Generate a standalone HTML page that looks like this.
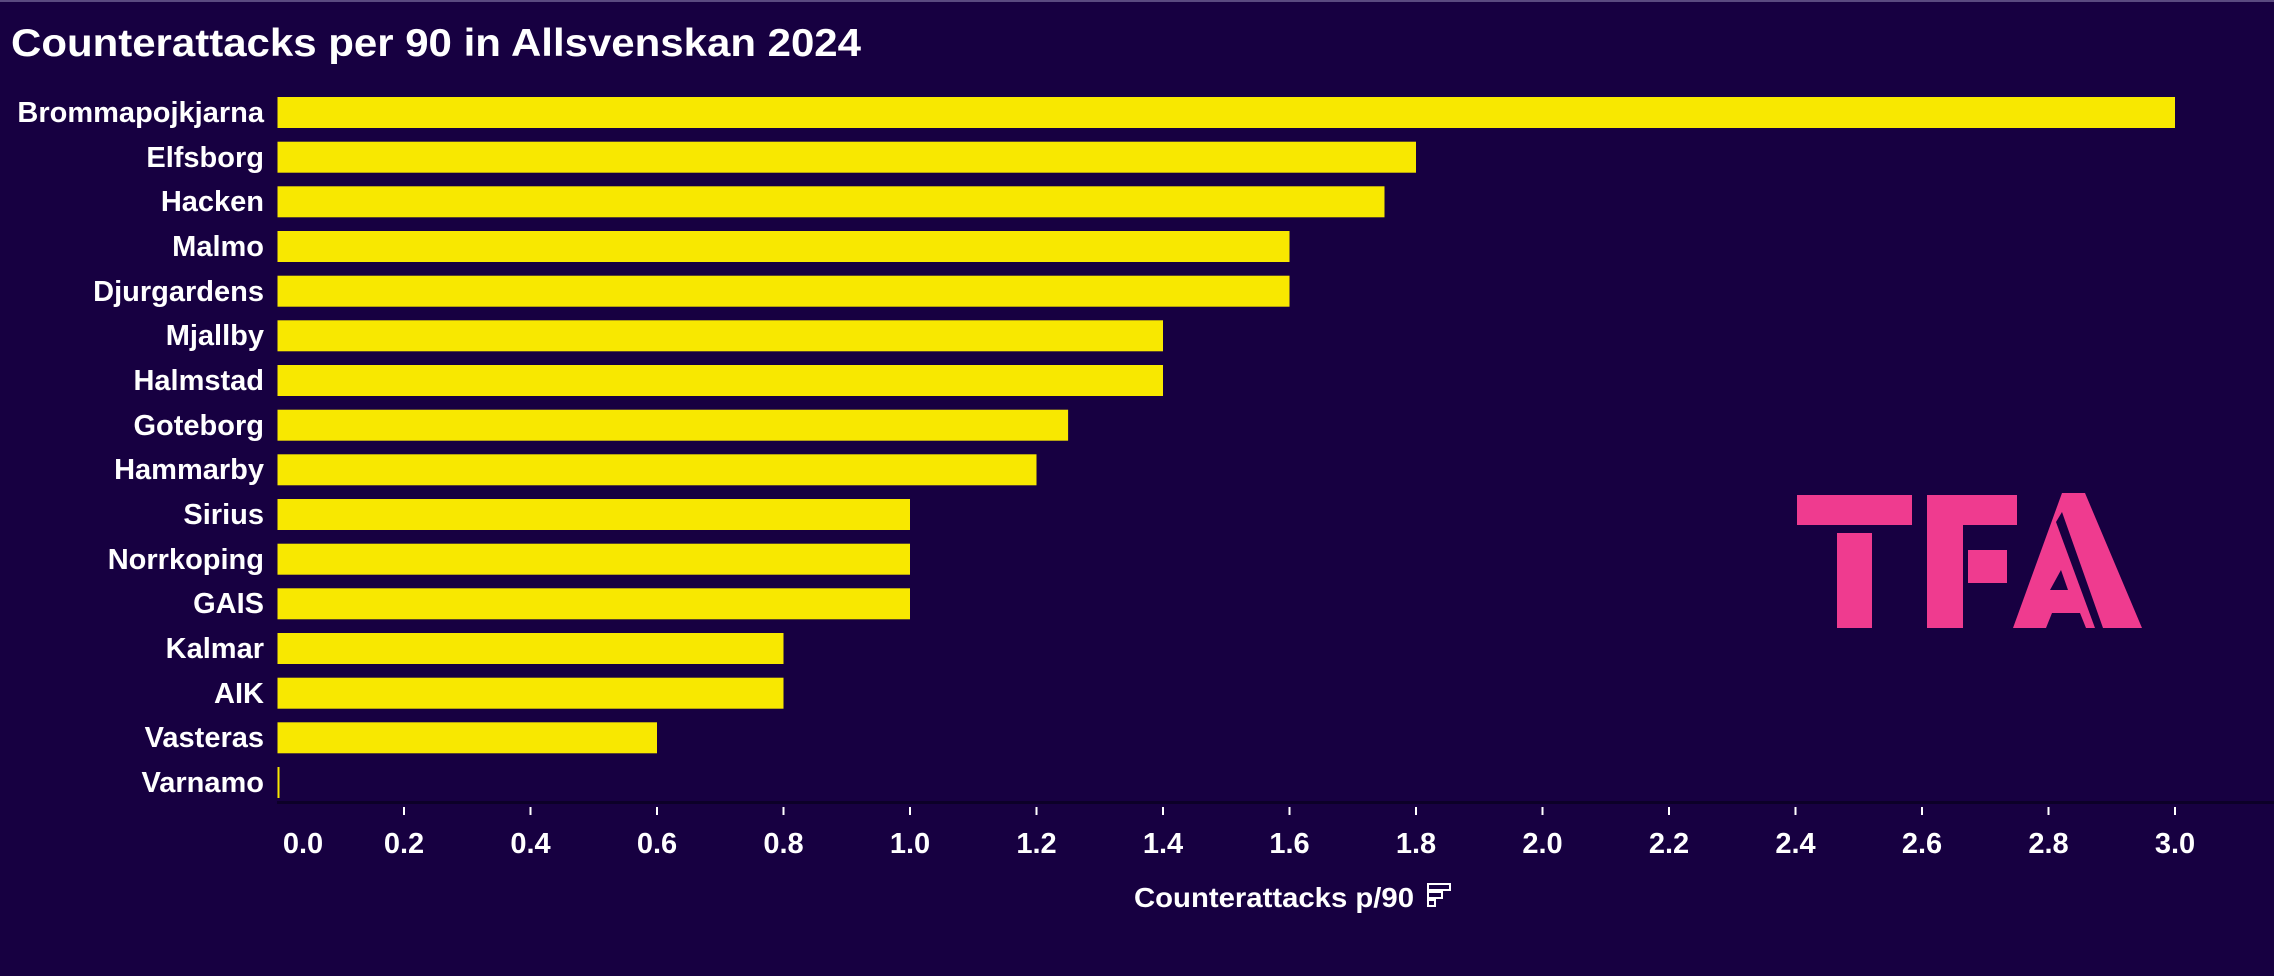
<!DOCTYPE html>
<html><head><meta charset="utf-8"><style>
html,body{margin:0;padding:0;background:#170041;}
svg{display:block;}
text{font-family:"Liberation Sans",sans-serif;font-weight:bold;fill:#fff;}
</style></head><body>
<svg width="2274" height="976" viewBox="0 0 2274 976" xmlns="http://www.w3.org/2000/svg">
<rect width="2274" height="976" fill="#170041"/>
<rect width="2274" height="2" fill="#5a4a80"/>
<text x="11" y="56" font-size="39" textLength="850" lengthAdjust="spacingAndGlyphs">Counterattacks per 90 in Allsvenskan 2024</text>
<g font-size="29" text-anchor="end">
<text x="264" y="122">Brommapojkjarna</text>
<text x="264" y="167">Elfsborg</text>
<text x="264" y="211">Hacken</text>
<text x="264" y="256">Malmo</text>
<text x="264" y="301">Djurgardens</text>
<text x="264" y="345">Mjallby</text>
<text x="264" y="390">Halmstad</text>
<text x="264" y="435">Goteborg</text>
<text x="264" y="479">Hammarby</text>
<text x="264" y="524">Sirius</text>
<text x="264" y="569">Norrkoping</text>
<text x="264" y="613">GAIS</text>
<text x="264" y="658">Kalmar</text>
<text x="264" y="703">AIK</text>
<text x="264" y="747">Vasteras</text>
<text x="264" y="792">Varnamo</text>
</g>
<g fill="#f8e800">
<rect x="277.5" y="97" width="1897.5" height="31"/>
<rect x="277.5" y="141.7" width="1138.5" height="31"/>
<rect x="277.5" y="186.3" width="1107" height="31"/>
<rect x="277.5" y="231" width="1012" height="31"/>
<rect x="277.5" y="275.7" width="1012" height="31"/>
<rect x="277.5" y="320.3" width="885.5" height="31"/>
<rect x="277.5" y="365" width="885.5" height="31"/>
<rect x="277.5" y="409.7" width="790.6" height="31"/>
<rect x="277.5" y="454.3" width="759" height="31"/>
<rect x="277.5" y="499" width="632.5" height="31"/>
<rect x="277.5" y="543.7" width="632.5" height="31"/>
<rect x="277.5" y="588.3" width="632.5" height="31"/>
<rect x="277.5" y="633" width="506" height="31"/>
<rect x="277.5" y="677.7" width="506" height="31"/>
<rect x="277.5" y="722.3" width="379.5" height="31"/>
<rect x="277.5" y="767" width="2" height="31"/>
</g>
<rect x="277" y="801" width="1997" height="3" fill="#0c0028"/>
<g stroke="#fff" stroke-width="2">
<line x1="404" y1="807" x2="404" y2="815"/><line x1="530.5" y1="807" x2="530.5" y2="815"/><line x1="657" y1="807" x2="657" y2="815"/><line x1="783.5" y1="807" x2="783.5" y2="815"/><line x1="910" y1="807" x2="910" y2="815"/><line x1="1036.5" y1="807" x2="1036.5" y2="815"/><line x1="1163" y1="807" x2="1163" y2="815"/><line x1="1289.5" y1="807" x2="1289.5" y2="815"/><line x1="1416" y1="807" x2="1416" y2="815"/><line x1="1542.5" y1="807" x2="1542.5" y2="815"/><line x1="1669" y1="807" x2="1669" y2="815"/><line x1="1795.5" y1="807" x2="1795.5" y2="815"/><line x1="1922" y1="807" x2="1922" y2="815"/><line x1="2048.5" y1="807" x2="2048.5" y2="815"/><line x1="2175" y1="807" x2="2175" y2="815"/>
</g>
<g font-size="29" text-anchor="middle">
<text x="303" y="853">0.0</text><text x="404" y="853">0.2</text><text x="530.5" y="853">0.4</text><text x="657" y="853">0.6</text><text x="783.5" y="853">0.8</text><text x="910" y="853">1.0</text><text x="1036.5" y="853">1.2</text><text x="1163" y="853">1.4</text><text x="1289.5" y="853">1.6</text><text x="1416" y="853">1.8</text><text x="1542.5" y="853">2.0</text><text x="1669" y="853">2.2</text><text x="1795.5" y="853">2.4</text><text x="1922" y="853">2.6</text><text x="2048.5" y="853">2.8</text><text x="2175" y="853">3.0</text>
</g>
<text x="1134" y="907" font-size="28" textLength="280" lengthAdjust="spacingAndGlyphs">Counterattacks p/90</text>
<g fill="none" stroke="#fff" stroke-width="2">
<rect x="1428" y="884" width="22" height="6"/><rect x="1428" y="892" width="14" height="6"/><rect x="1428" y="900" width="7" height="6"/>
</g>
<g fill="#ef3b8f">
<rect x="1797" y="495" width="115" height="30"/>
<rect x="1837" y="533" width="35" height="95"/>
<rect x="1927" y="495" width="36" height="133"/>
<rect x="1963" y="495" width="54" height="30"/>
<rect x="1968" y="550" width="39" height="33"/>
<polygon points="2013,628 2062,493 2085,493 2142,628"/>
</g>
<g fill="#170041">
<polygon points="2056,522 2062,512 2103,628 2095,628"/>
<polygon points="2050,590 2068,590 2061,570"/>
<polygon points="2046,628 2052,613 2080,613 2086,628"/>
</g>
</svg>
</body></html>
